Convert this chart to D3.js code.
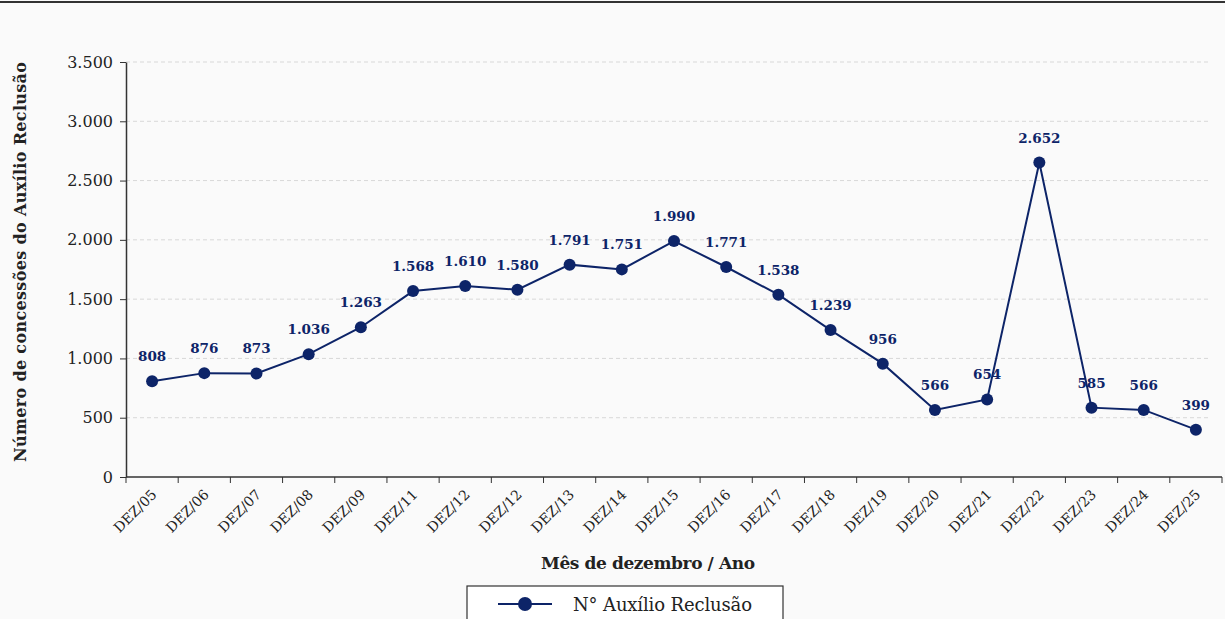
<!DOCTYPE html>
<html>
<head>
<meta charset="utf-8">
<script src="https://cdn.jsdelivr.net/npm/d3@7"></script>
<style>
  body { margin: 0; background: #fafafa; }
  svg { display: block; }
  text { font-family: "DejaVu Serif", serif; }
</style>
</head>
<body>
<script>
const width = 1225
const height = 619
const margin = {top: 62, right: 3, bottom: 142, left: 126}
const navy = '#0d2468'
const serif = '"DejaVu Serif", serif'

// data
const categories = ['DEZ/05', 'DEZ/06', 'DEZ/07', 'DEZ/08', 'DEZ/09', 'DEZ/11', 'DEZ/12', 'DEZ/12 ', 'DEZ/13', 'DEZ/14',
  'DEZ/15', 'DEZ/16', 'DEZ/17', 'DEZ/18', 'DEZ/19', 'DEZ/20', 'DEZ/21', 'DEZ/22', 'DEZ/23', 'DEZ/24', 'DEZ/25']
const values = [808, 876, 873, 1036, 1263, 1568, 1610, 1580, 1791, 1751,
  1990, 1771, 1538, 1239, 956, 566, 654, 2652, 585, 566, 399]
const yTicks = [0, 500, 1000, 1500, 2000, 2500, 3000, 3500]
const seriesName = 'N° Auxílio Reclusão'

const fmt = d3.formatLocale({decimal: ',', thousands: '.', grouping: [3], currency: ['', '']}).format(',d')

const svg = d3.select('body')
  .append('svg')
  .attr('width', width)
  .attr('height', height)

// top rule
svg.append('line')
  .attr('x1', 0).attr('x2', width)
  .attr('y1', 2).attr('y2', 2)
  .attr('stroke', '#333').attr('stroke-width', 2)

const xScale = d3.scaleBand()
  .domain(categories)
  .range([margin.left, width - margin.right])

const yScale = d3.scaleLinear()
  .domain([0, 3500])
  .range([height - margin.bottom, margin.top])

// grid
svg.append('g')
  .selectAll('line')
  .data(yTicks.slice(1))
  .join('line')
  .attr('x1', margin.left).attr('x2', width - 14)
  .attr('y1', d => yScale(d)).attr('y2', d => yScale(d))
  .attr('stroke', '#d8d8d8')
  .attr('stroke-dasharray', '4,3')

// y axis
const yAxis = d3.axisLeft(yScale)
  .tickValues(yTicks)
  .tickFormat(fmt)
  .tickSize(6)
  .tickSizeOuter(0)

svg.append('g')
  .attr('transform', `translate(${margin.left},0)`)
  .call(yAxis)
  .attr('font-family', serif)
  .call(g => g.select('.domain').attr('stroke', '#333').attr('stroke-width', 1.5))
  .call(g => g.selectAll('.tick line').attr('stroke', '#333'))
  .call(g => g.selectAll('.tick text')
    .attr('font-size', '16px').attr('fill', '#222')
    .attr('x', -13))

// x axis with ticks at category boundaries
const xAxisY = yScale(0)
const xg = svg.append('g').attr('transform', `translate(0,${xAxisY})`)
xg.append('line')
  .attr('x1', margin.left).attr('x2', width - margin.right)
  .attr('stroke', '#333').attr('stroke-width', 1.5)
xg.selectAll('.xtick')
  .data(categories.concat(['end']))
  .join('line')
  .attr('class', 'xtick')
  .attr('x1', (d, i) => i < categories.length ? xScale(d) : xScale.range()[1])
  .attr('x2', (d, i) => i < categories.length ? xScale(d) : xScale.range()[1])
  .attr('y1', 0).attr('y2', 6)
  .attr('stroke', '#333')
xg.selectAll('.xlabel')
  .data(categories)
  .join('text')
  .attr('class', 'xlabel')
  .attr('transform', d => `translate(${xScale(d) + xScale.bandwidth() / 2 + 2},${15}) rotate(-45)`)
  .attr('text-anchor', 'end')
  .attr('dy', '0.35em')
  .attr('font-family', serif)
  .attr('font-size', '14px')
  .attr('fill', '#222')
  .text(d => d.trim())

// line
const line = d3.line()
  .x((d, i) => xScale(categories[i]) + xScale.bandwidth() / 2)
  .y(d => yScale(d))

svg.append('path')
  .datum(values)
  .attr('d', line)
  .attr('fill', 'none')
  .attr('stroke', navy)
  .attr('stroke-width', 2)

svg.selectAll('.dot')
  .data(values)
  .join('circle')
  .attr('class', 'dot')
  .attr('cx', (d, i) => xScale(categories[i]) + xScale.bandwidth() / 2)
  .attr('cy', d => yScale(d))
  .attr('r', 6)
  .attr('fill', navy)

svg.selectAll('.lbl')
  .data(values)
  .join('text')
  .attr('class', 'lbl')
  .attr('x', (d, i) => xScale(categories[i]) + xScale.bandwidth() / 2)
  .attr('y', d => yScale(d) - 20)
  .attr('text-anchor', 'middle')
  .attr('font-family', serif)
  .attr('font-size', '13.5px')
  .attr('font-weight', 'bold')
  .attr('fill', navy)
  .text(d => fmt(d))

// axis titles
svg.append('text')
  .attr('x', 648).attr('y', 569)
  .attr('text-anchor', 'middle')
  .attr('font-family', serif)
  .attr('font-size', '17px')
  .attr('font-weight', 'bold')
  .attr('fill', '#222')
  .attr('textLength', 214)
  .text('Mês de dezembro / Ano')

svg.append('text')
  .attr('transform', `translate(26,262) rotate(-90)`)
  .attr('text-anchor', 'middle')
  .attr('font-family', serif)
  .attr('font-size', '16px')
  .attr('font-weight', 'bold')
  .attr('fill', '#222')
  .attr('textLength', 400)
  .text('Número de concessões do Auxílio Reclusão')

// legend
const legend = svg.append('g').attr('transform', 'translate(467,586)')
legend.append('rect')
  .attr('width', 316).attr('height', 40)
  .attr('fill', '#fff')
  .attr('stroke', '#333').attr('stroke-width', 1.2)
legend.append('line')
  .attr('x1', 31).attr('x2', 85).attr('y1', 18).attr('y2', 18)
  .attr('stroke', navy).attr('stroke-width', 2)
legend.append('circle')
  .attr('cx', 58).attr('cy', 18).attr('r', 7)
  .attr('fill', navy)
legend.append('text')
  .attr('x', 106).attr('y', 25)
  .attr('font-family', serif)
  .attr('font-size', '18px')
  .attr('fill', '#222')
  .attr('textLength', 179)
  .text(seriesName)
</script>
</body>
</html>
